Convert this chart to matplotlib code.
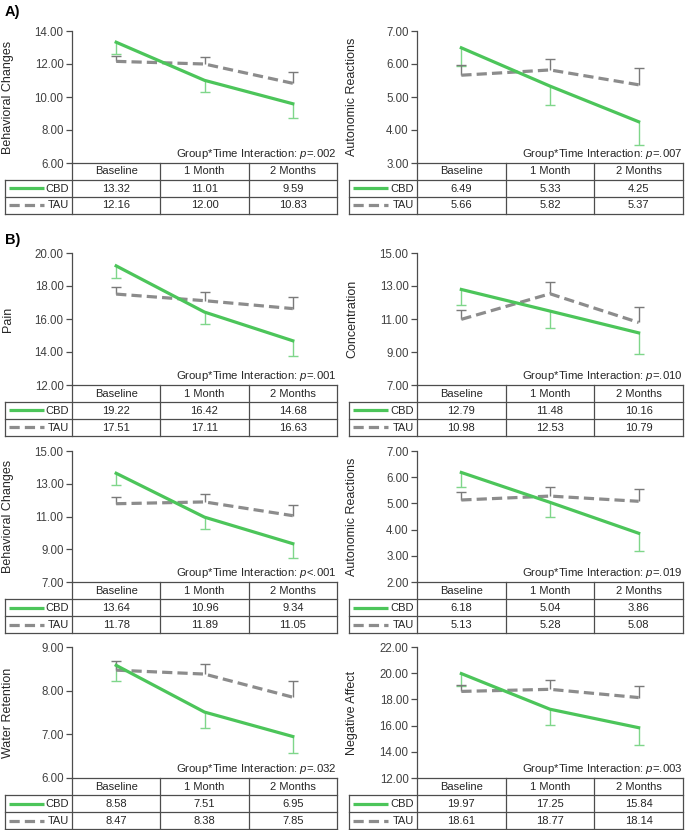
import numpy as np
import matplotlib
matplotlib.use("Agg")
import matplotlib.pyplot as plt

plt.rcParams['font.family'] = 'Liberation Sans'
plt.rcParams['mathtext.fontset'] = 'custom'
plt.rcParams['mathtext.rm'] = 'Liberation Sans'
plt.rcParams['mathtext.it'] = 'Liberation Sans:italic'

# time points
timepoints = ["Baseline", "1 Month", "2 Months"]

# panel order: A-left, A-right, B rows
measures = ["Behavioral Changes", "Autonomic Reactions", "Pain", "Concentration",
            "Behavioral Changes", "Autonomic Reactions", "Water Retention", "Negative Affect"]
cbd_means = [[13.32, 11.01, 9.59], [6.49, 5.33, 4.25], [19.22, 16.42, 14.68], [12.79, 11.48, 10.16],
             [13.64, 10.96, 9.34], [6.18, 5.04, 3.86], [8.58, 7.51, 6.95], [19.97, 17.25, 15.84]]
tau_means = [[12.16, 12.00, 10.83], [5.66, 5.82, 5.37], [17.51, 17.11, 16.63], [10.98, 12.53, 10.79],
             [11.78, 11.89, 11.05], [5.13, 5.28, 5.08], [8.47, 8.38, 7.85], [18.61, 18.77, 18.14]]
# standard errors
cbd_err = [[0.72, 0.70, 0.84], [0.54, 0.58, 0.70], [0.72, 0.72, 0.93], [0.94, 1.03, 1.26],
           [0.74, 0.71, 0.89], [0.56, 0.57, 0.66], [0.36, 0.36, 0.37], [0.95, 1.20, 1.34]]
tau_err = [[0.35, 0.45, 0.67], [0.30, 0.33, 0.50], [0.40, 0.50, 0.68], [0.57, 0.72, 0.96],
           [0.42, 0.51, 0.65], [0.29, 0.34, 0.47], [0.21, 0.24, 0.37], [0.50, 0.68, 0.91]]
p_values = ["=.002", "=.007", "=.001", "=.010", "<.001", "=.019", "=.032", "=.003"]
y_ranges = [(6, 14, 2), (3, 7, 1), (12, 20, 2), (7, 15, 2), (7, 15, 2), (2, 7, 1), (6, 9, 1), (12, 22, 2)]

GREEN = '#4cc55a'
GREEN_ERR = '#7fd68a'
GREY = '#8c8c8c'
GREY_ERR = '#7a7a7a'
LINEC = '#4d4d4d'
TXT = '#262626'

W, H = 685, 830
fig = plt.figure(figsize=(W / 100, H / 100), dpi=100)


def rect(x0, y0, x1, y1):
    return [x0 / W, 1 - y1 / H, (x1 - x0) / W, (y1 - y0) / H]


# pixel layout: (legend left, axis left, right) per column, (plot top, plot bottom) per row
cols = [(5, 72, 337), (349, 417, 683)]
rows = [(31, 163), (253, 385), (451, 582), (647, 778)]
row_h = 17

for i in range(8):
    lx, ax0, ax1 = cols[i % 2]
    top, bot = rows[i // 2]
    lo, hi, step = y_ranges[i]
    x = np.arange(3)

    ax = fig.add_axes(rect(ax0, top, ax1, bot))
    ax.set_xlim(-0.5, 2.5)
    ax.set_ylim(lo, hi)
    ticks = np.arange(lo, hi + step / 2, step)
    ax.set_yticks(ticks)
    ax.set_yticklabels([f"{t:.2f}" for t in ticks], fontsize=8.3, color='#404040')
    ax.set_xticks([])
    for s in ['top', 'right', 'bottom']:
        ax.spines[s].set_visible(False)
    ax.spines['left'].set_color(LINEC)
    ax.spines['left'].set_linewidth(0.9)
    ax.tick_params(axis='y', length=4, width=0.9, color=LINEC, pad=2)
    ax.patch.set_alpha(0)

    # error bars: CBD downward, TAU upward
    c = np.array(cbd_means[i]); t = np.array(tau_means[i])
    ce = np.array(cbd_err[i]); te = np.array(tau_err[i])
    ax.vlines(x, c - ce, c, color=GREEN_ERR, lw=1.0, zorder=2)
    ax.plot(x, c - ce, ls='none', marker='_', ms=7, mew=1.0, color=GREEN_ERR, zorder=2)
    ax.vlines(x, t, t + te, color=GREY_ERR, lw=1.0, zorder=2)
    ax.plot(x, t + te, ls='none', marker='_', ms=7, mew=1.0, color=GREY_ERR, zorder=2)

    ax.plot(x, t, color=GREY, lw=2.3, dashes=(3.2, 1.6), zorder=3)
    ax.plot(x, c, color=GREEN, lw=2.3, zorder=4)

    ax.set_ylabel(measures[i], fontsize=9, color=TXT)
    ax.yaxis.set_label_coords(-(ax0 - lx - 9) / (ax1 - ax0), 0.5)

    ax.text(0.997, 0.012, "Group*Time Interaction: $\\mathit{p}$" + p_values[i],
            transform=ax.transAxes, ha='right', va='bottom', fontsize=8.2, color=TXT)

    # data table under the plot
    L = (ax0 - lx) / ((ax1 - ax0) / 3)
    tb = fig.add_axes(rect(lx, bot, ax1, bot + 3 * row_h))
    tb.set_xlim(-0.5 - L, 2.5)
    tb.set_ylim(3, 0)
    tb.axis('off')
    kw = dict(color=LINEC, lw=0.9, clip_on=False)
    tb.plot([-0.5, 2.5], [0, 0], **kw)
    for yy in [1, 2, 3]:
        tb.plot([-0.5 - L, 2.5], [yy, yy], **kw)
    tb.plot([-0.5 - L, -0.5 - L], [1, 3], **kw)
    for xx in [-0.5, 0.5, 1.5, 2.5]:
        tb.plot([xx, xx], [0, 3], **kw)
    for j, lab in enumerate(timepoints):
        tb.text(j, 0.5, lab, ha='center', va='center', fontsize=8, color=TXT)
        tb.text(j, 1.5, f"{cbd_means[i][j]:.2f}", ha='center', va='center', fontsize=8, color=TXT)
        tb.text(j, 2.5, f"{tau_means[i][j]:.2f}", ha='center', va='center', fontsize=8, color=TXT)
    sx0 = -0.5 - L + 0.04
    sx1 = -0.5 - L * 0.42
    tb.plot([sx0, sx1], [1.5, 1.5], color=GREEN, lw=2.3, solid_capstyle='butt')
    tb.plot([sx0, sx1], [2.5, 2.5], color=GREY, lw=2.3, dashes=(3.2, 1.6))
    tb.text(-0.53, 1.5, "CBD", ha='right', va='center', fontsize=8, color=TXT)
    tb.text(-0.53, 2.5, "TAU", ha='right', va='center', fontsize=8, color=TXT)

fig.text(5 / W, 1 - 12 / H, "A)", fontsize=10.5, fontweight='bold', va='center', ha='left')
fig.text(5 / W, 1 - 240 / H, "B)", fontsize=10.5, fontweight='bold', va='center', ha='left')

fig.savefig("out.png", dpi=100)
